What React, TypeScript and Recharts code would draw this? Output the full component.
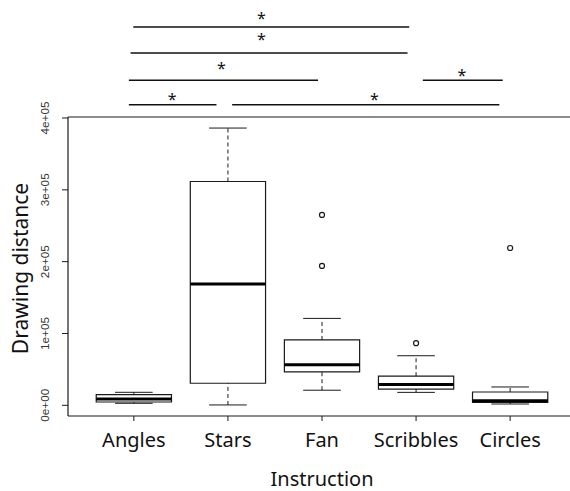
import React from 'react';
import {
  ComposedChart,
  XAxis,
  YAxis,
  ReferenceArea,
  ReferenceLine,
  ReferenceDot,
  Scatter,
  Label,
} from 'recharts';

const categories = ['Angles', 'Stars', 'Fan', 'Scribbles', 'Circles'];
const positions = [1, 2, 3, 4, 5];
const whiskerLow = [2800, 500, 21000, 18000, 1800];
const q1 = [4600, 30700, 46400, 22500, 4200];
const median = [8800, 169000, 56600, 29000, 6500];
const q3 = [14800, 311600, 91000, 40500, 18500];
const whiskerHigh = [18100, 386000, 121000, 69000, 25500];

const outlierCategory = [3, 3, 4, 5];
const outlierValue = [265000, 194000, 86500, 219000];

const yTicks = [0, 100000, 200000, 300000, 400000];
const yTickLabels = ['0e+00', '1e+05', '2e+05', '3e+05', '4e+05'];

// significance brackets (x in category units, y in data units)
const sigFrom = [0.994, 0.965, 0.947, 4.072, 0.947, 2.045];
const sigTo = [3.927, 3.909, 2.958, 4.921, 1.878, 4.885];
const sigLevel = [526800, 490600, 452700, 452700, 418500, 418500];
const starX = [2.355, 2.355, 1.931, 4.486, 1.408, 3.558];
const starY = [544000, 514700, 473900, 464100, 431100, 431100];
const starText = ['*', '*', '*', '*', '*', '*'];

const yDomain = [-14900, 401400];
const xDomain = [0.3, 5.7];

const BOX_HALF = 0.4;
const CAP_HALF = 0.2;
const INK = '#1a1a1a';

const outliers = outlierCategory.map((c, i) => ({ x: c, y: outlierValue[i] }));

const YTick = (props: any) => {
  const { x, y, payload } = props;
  const idx = yTicks.indexOf(payload.value);
  const cx = x - 14;
  return (
    <text
      x={cx}
      y={y}
      transform={`rotate(-90, ${cx}, ${y})`}
      textAnchor="middle"
      dominantBaseline="central"
      fontSize={10}
      fontFamily="Liberation Sans, Arial, sans-serif"
      fill="#333"
      textLength={33}
      lengthAdjust="spacingAndGlyphs"
    >
      {yTickLabels[idx]}
    </text>
  );
};

const XTick = (props: any) => {
  const { x, y, payload } = props;
  return (
    <text
      x={x}
      y={y + 24}
      textAnchor="middle"
      fontSize={20}
      fontFamily="Noto Sans, sans-serif"
      fill="#111"
    >
      {categories[payload.value - 1]}
    </text>
  );
};

const YLabel = (props: any) => {
  const vb = props.viewBox || { x: 0, y: 117, width: 68, height: 299 };
  const cx = vb.x + 20;
  const cy = vb.y + vb.height / 2 + 2;
  return (
    <text
      x={cx}
      y={cy}
      transform={`rotate(-90, ${cx}, ${cy})`}
      textAnchor="middle"
      dominantBaseline="central"
      fontSize={21}
      fontFamily="Noto Sans, sans-serif"
      fill="#111"
    >
      Drawing distance
    </text>
  );
};

const XLabel = (props: any) => {
  const vb = props.viewBox || { x: 68, y: 416, width: 508, height: 75 };
  const cx = vb.x + vb.width / 2;
  return (
    <text
      x={cx}
      y={vb.y + 70}
      textAnchor="middle"
      fontSize={20}
      fontFamily="Noto Sans, sans-serif"
      fill="#111"
    >
      Instruction
    </text>
  );
};

const Star = (text: string) => (p: any) => (
  <text
    x={p.cx}
    y={p.cy + 9}
    textAnchor="middle"
    fontSize={16}
    fontFamily="Noto Sans, sans-serif"
    fill="#111"
  >
    {text}
  </text>
);

export default function App() {
  return (
    <div
      style={{
        position: 'absolute',
        left: 0,
        top: 0,
        width: 570,
        height: 491,
        overflow: 'hidden',
        background: '#fff',
      }}
    >
      <ComposedChart
        width={600}
        height={491}
        margin={{ top: 117, right: 24, bottom: 0, left: 0 }}
      >
        <XAxis
          type="number"
          dataKey="x"
          domain={xDomain}
          ticks={positions}
          allowDataOverflow
          height={75}
          tickSize={5}
          tickLine={{ stroke: INK }}
          axisLine={{ stroke: INK, strokeWidth: 1.2 }}
          tick={<XTick />}
          interval={0}
        >
          <Label content={<XLabel />} />
        </XAxis>
        <YAxis
          type="number"
          domain={yDomain}
          ticks={yTicks}
          allowDataOverflow
          width={68}
          tickSize={6}
          tickLine={{ stroke: INK }}
          axisLine={{ stroke: INK, strokeWidth: 1.2 }}
          tick={<YTick />}
          interval={0}
        >
          <Label content={<YLabel />} />
        </YAxis>

        <ReferenceLine y={yDomain[1]} stroke={INK} strokeWidth={1.2} />

        {positions.map((p, i) => (
          <ReferenceLine
            key={`wu${i}`}
            segment={[
              { x: p, y: q3[i] },
              { x: p, y: whiskerHigh[i] },
            ]}
            stroke={INK}
            strokeDasharray="4 3"
          />
        ))}
        {positions.map((p, i) => (
          <ReferenceLine
            key={`wl${i}`}
            segment={[
              { x: p, y: whiskerLow[i] },
              { x: p, y: q1[i] },
            ]}
            stroke={INK}
            strokeDasharray="4 3"
          />
        ))}
        {positions.map((p, i) => (
          <ReferenceLine
            key={`cu${i}`}
            segment={[
              { x: p - CAP_HALF, y: whiskerHigh[i] },
              { x: p + CAP_HALF, y: whiskerHigh[i] },
            ]}
            stroke={INK}
          />
        ))}
        {positions.map((p, i) => (
          <ReferenceLine
            key={`cl${i}`}
            segment={[
              { x: p - CAP_HALF, y: whiskerLow[i] },
              { x: p + CAP_HALF, y: whiskerLow[i] },
            ]}
            stroke={INK}
          />
        ))}
        {positions.map((p, i) => (
          <ReferenceArea
            key={`b${i}`}
            x1={p - BOX_HALF}
            x2={p + BOX_HALF}
            y1={q1[i]}
            y2={q3[i]}
            fill="#fff"
            fillOpacity={1}
            stroke={INK}
            strokeWidth={1.2}
          />
        ))}
        {positions.map((p, i) => (
          <ReferenceLine
            key={`m${i}`}
            segment={[
              { x: p - BOX_HALF, y: median[i] },
              { x: p + BOX_HALF, y: median[i] },
            ]}
            stroke="#000"
            strokeWidth={3}
          />
        ))}

        <Scatter
          data={outliers}
          dataKey="y"
          isAnimationActive={false}
          shape={(p: any) => (
            <circle cx={p.cx} cy={p.cy} r={2.5} fill="#fff" stroke={INK} strokeWidth={1.2} />
          )}
        />

        {sigFrom.map((f, i) => (
          <ReferenceLine
            key={`s${i}`}
            segment={[
              { x: f, y: sigLevel[i] },
              { x: sigTo[i], y: sigLevel[i] },
            ]}
            stroke="#111"
            strokeWidth={1.5}
            ifOverflow="visible"
          />
        ))}
        {starX.map((sx, i) => (
          <ReferenceDot
            key={`st${i}`}
            x={sx}
            y={starY[i]}
            r={0}
            ifOverflow="visible"
            shape={Star(starText[i])}
          />
        ))}
      </ComposedChart>
    </div>
  );
}
